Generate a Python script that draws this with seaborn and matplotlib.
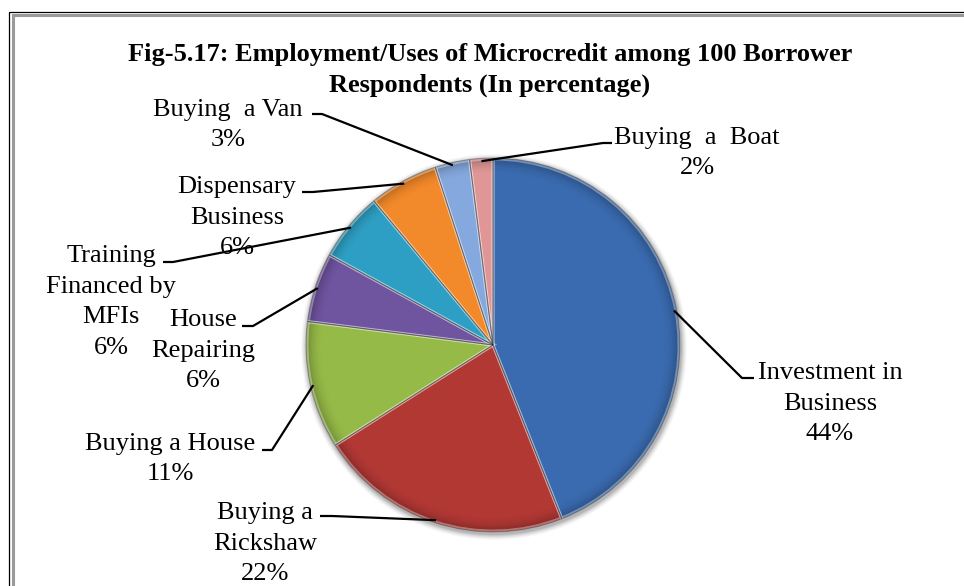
import numpy as np
import matplotlib
matplotlib.use("Agg")
import matplotlib.pyplot as plt
import seaborn as sns
from matplotlib.colors import to_rgb
from matplotlib.patches import Circle

# ---- data -------------------------------------------------------------
categories = ["Investment in Business", "Buying a Rickshaw", "Buying a House",
              "House Repairing", "Training Financed by MFIs",
              "Dispensary Business", "Buying a Van", "Buying a Boat"]
label_lines = [["Investment in", "Business"], ["Buying a", "Rickshaw"],
               ["Buying a House"], ["House", "Repairing"],
               ["Training", "Financed by", "MFIs"], ["Dispensary", "Business"],
               ["Buying  a Van"], ["Buying  a  Boat"]]
percent = [44, 22, 11, 6, 6, 6, 3, 2]
title_lines = ["Fig-5.17: Employment/Uses of Microcredit among 100 Borrower",
               "Respondents (In percentage)"]

# ---- style ------------------------------------------------------------
slice_colors = ["#3A6BB0", "#B23834", "#96BA48", "#6F54A0",
                "#2E9FC4", "#F2892A", "#85A8DE", "#E09696"]

sns.set_theme(style="white")
plt.rcParams["font.family"] = ["Liberation Serif", "DejaVu Serif"]

W, H = 964, 586                     # canvas in pixels
CX, CY, R = 493, 345, 187           # pie centre / radius (pixels, y down)
FS = 19                             # label font size (pt)
LINE_STEP = 30.5                    # pixel distance between label lines

# label block: centre x and first baseline (pixels, y down)
label_pos = [(830, 379), (265, 519), (170, 450), (203, 326),
             (111, 262), (237, 193), (228, 116), (697, 144)]
# leader elbow and end point next to each label
leader_tail = [((742, 378), (754, 378)), ((332, 516), (320, 516)),
               ((272, 450), (262, 450)), ((253, 326), (242, 326)),
               ((173, 262), (163, 262)), ((313, 192), (302, 192)),
               ((322, 114), (312, 114)), ((603, 143), (612, 143))]


def fy(y):
    """pixel row (top origin) -> data y (bottom origin)"""
    return H - y


fig = plt.figure(figsize=(W / 100, H / 100), dpi=100)
ax = fig.add_axes([0, 0, 1, 1])
palette = sns.color_palette(slice_colors)

# soft shadow under the pie
for k, a in zip(range(6, 0, -1), [0.025, 0.035, 0.045, 0.055, 0.07, 0.09]):
    ax.add_patch(Circle((CX + 1, fy(CY) - 2), R + k, color="black",
                        alpha=a, lw=0, zorder=1))

# layered wedges: darker bevelled rim fading into the slice colour
n_layers = 28
for i in range(n_layers):
    t = i / (n_layers - 1)
    rad = R * (1 - 0.09 * t)
    dark = 0.26 * (1 - t) ** 2
    cols = [tuple(np.array(to_rgb(c)) * (1 - dark)) for c in palette]
    ax.pie(percent, colors=cols, startangle=90, counterclock=False,
           radius=rad, center=(CX, fy(CY)), frame=True,
           wedgeprops=dict(linewidth=0, zorder=2 + i * 0.01))

# light bevel along slice borders
ax.pie(percent, colors=["none"] * len(percent), startangle=90,
       counterclock=False, radius=R * 0.995, center=(CX, fy(CY)), frame=True,
       wedgeprops=dict(edgecolor=(1, 1, 1, 0.35), linewidth=2.2, zorder=2.9))

# slice outlines, used also for leader anchors
wedges, _ = ax.pie(percent, colors=["none"] * len(percent), startangle=90,
                   counterclock=False, radius=R, center=(CX, fy(CY)),
                   frame=True,
                   wedgeprops=dict(edgecolor=(0, 0, 0, 0.3), linewidth=0.8,
                                   zorder=3))

# labels and leader lines
for w, lines, val, (lx, ly), (elbow, end) in zip(
        wedges, label_lines, percent, label_pos, leader_tail):
    mid = np.deg2rad((w.theta1 + w.theta2) / 2)
    ax_ = CX + 0.985 * R * np.cos(mid)
    ay_ = fy(CY) + 0.985 * R * np.sin(mid)
    ax.plot([ax_, elbow[0], end[0]], [ay_, fy(elbow[1]), fy(end[1])],
            color="black", lw=1.6, solid_capstyle="butt", zorder=4)
    for j, txt in enumerate(lines + [f"{val}%"]):
        ax.text(lx, fy(ly + j * LINE_STEP), txt, ha="center", va="baseline",
                fontsize=FS, color="black", zorder=5)

# title
for j, txt in enumerate(title_lines):
    ax.text(490, fy(61 + j * 31), txt, ha="center", va="baseline",
            fontsize=FS, fontweight="bold", color="black")

# double frame on the top and left side
ax.plot([8.5, 8.5, W], [0, fy(11.5), fy(11.5)], color="black", lw=0.9,
        solid_joinstyle="miter", zorder=6)
ax.plot([12.5, 12.5, W], [0, fy(14.5), fy(14.5)], color="#9A9A9A", lw=2.2,
        solid_joinstyle="miter", zorder=6)

ax.set_xlim(0, W)
ax.set_ylim(0, H)
ax.set_aspect("equal")
ax.axis("off")
fig.savefig("out.png", dpi=100, facecolor="white")
